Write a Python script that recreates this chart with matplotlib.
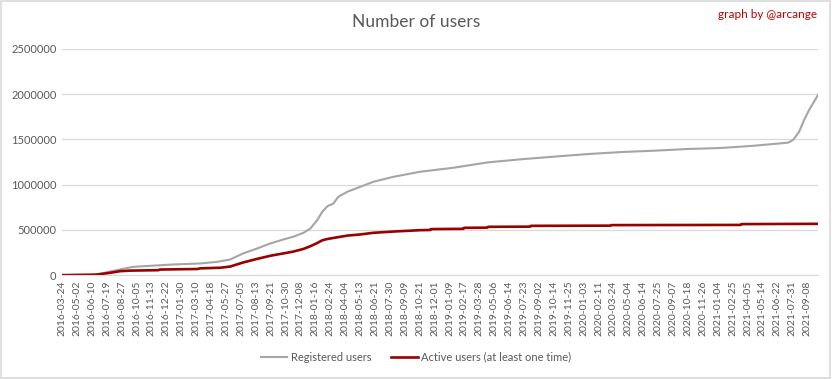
import numpy as np
import pandas as pd
import matplotlib.pyplot as plt

# category labels shown on the x axis (every 39th row of the sheet)
tick_labels = ['2016-03-24', '2016-05-02', '2016-06-10', '2016-07-19', '2016-08-27', '2016-10-05',
               '2016-11-13', '2016-12-22', '2017-01-30', '2017-03-10', '2017-04-18', '2017-05-27',
               '2017-07-05', '2017-08-13', '2017-09-21', '2017-10-30', '2017-12-08', '2018-01-16',
               '2018-02-24', '2018-04-04', '2018-05-13', '2018-06-21', '2018-07-30', '2018-09-09',
               '2018-10-21', '2018-12-01', '2019-01-09', '2019-02-17', '2019-03-28', '2019-05-06',
               '2019-06-14', '2019-07-23', '2019-09-02', '2019-10-14', '2019-11-25', '2020-01-03',
               '2020-02-11', '2020-03-24', '2020-05-04', '2020-06-14', '2020-07-25', '2020-09-07',
               '2020-10-18', '2020-11-26', '2021-01-04', '2021-02-25', '2021-04-05', '2021-05-14',
               '2021-06-22', '2021-07-31', '2021-09-08']

# registered users
reg_dates = ['2016-03-24', '2016-06-10', '2016-07-01', '2016-07-28', '2016-08-23', '2016-09-26',
             '2016-11-09', '2017-01-09', '2017-03-21', '2017-05-04', '2017-06-07', '2017-07-11',
             '2017-08-17', '2017-09-20', '2017-10-24', '2017-11-19', '2017-12-16', '2018-01-03',
             '2018-01-21', '2018-02-03', '2018-02-17', '2018-03-04', '2018-03-17', '2018-04-10',
             '2018-05-14', '2018-06-17', '2018-08-09', '2018-10-23', '2019-01-20', '2019-04-19',
             '2019-07-14', '2019-10-14', '2020-01-14', '2020-04-13', '2020-07-13', '2020-10-18',
             '2021-01-15', '2021-04-22', '2021-07-20', '2021-08-02', '2021-08-18', '2021-08-31',
             '2021-09-13', '2021-10-07']
reg_users = [0, 5000, 15000, 40000, 63000, 92000,
             103000, 118000, 129000, 147000, 173000, 240000,
             295000, 350000, 394000, 424000, 468000, 516000,
             608000, 700000, 763000, 790000, 866000, 922000,
             977000, 1032000, 1087000, 1143000, 1187000, 1246000,
             1280000, 1309000, 1338000, 1360000, 1375000, 1394000,
             1405000, 1430000, 1464000, 1493000, 1585000, 1715000,
             1825000, 1995000]

# active users (at least one time)
act_dates = ['2016-03-24', '2016-06-21', '2016-07-28', '2016-08-23', '2016-09-18', '2016-12-01',
             '2016-12-06', '2017-03-13', '2017-03-21', '2017-05-12', '2017-06-07', '2017-07-11',
             '2017-08-17', '2017-09-20', '2017-10-24', '2017-11-19', '2017-12-16', '2018-01-03',
             '2018-01-21', '2018-02-03', '2018-02-17', '2018-03-17', '2018-04-10', '2018-05-14',
             '2018-06-17', '2018-08-09', '2018-10-23', '2018-11-19', '2018-11-21', '2019-02-14',
             '2019-02-16', '2019-04-18', '2019-04-20', '2019-08-09', '2019-08-11', '2020-03-16',
             '2020-03-18', '2021-03-18', '2021-03-20', '2021-10-07']
act_users = [0, 5000, 26000, 44000, 50000, 55000,
             62000, 68000, 75000, 82000, 95000, 140000,
             180000, 214000, 240000, 260000, 290000, 320000,
             355000, 385000, 400000, 420000, 437000, 450000,
             468000, 482000, 497000, 499000, 509000, 512000,
             523000, 525000, 534000, 536000, 545000, 547000,
             553000, 555000, 564000, 567000]

txt = '#595959'
grid = '#d9d9d9'
plt.rcParams['font.family'] = ['Lato', 'DejaVu Sans']

# the sheet uses a category axis: position = label index, rows between labels
tick_days = pd.to_datetime(tick_labels).values.astype('datetime64[D]').astype(float)
tick_pos = np.arange(len(tick_labels), dtype=float)


def to_pos(dates):
    d = pd.to_datetime(dates).values.astype('datetime64[D]').astype(float)
    p = np.interp(d, tick_days, tick_pos)
    late = d > tick_days[-1]
    p[late] = tick_pos[-1] + (d[late] - tick_days[-1]) / 39.0
    return p


fig = plt.figure(figsize=(8.32, 3.79), dpi=100)
ax = fig.add_axes([0.0745, 0.274, 0.909, 0.597])

ax.plot(to_pos(reg_dates), reg_users, color='#a8a4a4', lw=1.5, label='Registered users')
ax.plot(to_pos(act_dates), act_users, color='#990000', lw=1.9, label='Active users (at least one time)')

ax.set_xticks(tick_pos)
ax.set_xticklabels(tick_labels, rotation=90, fontsize=7.5, color=txt)
ax.set_xlim(0, to_pos(['2021-10-07'])[0])
ax.set_ylim(0, 2500000)
ax.set_yticks(range(0, 2500001, 500000))
ax.set_yticklabels([str(v) for v in range(0, 2500001, 500000)], fontsize=8, color=txt)
ax.grid(axis='y', color=grid, lw=0.9)
ax.set_axisbelow(True)
for s in ['top', 'right', 'left']:
    ax.spines[s].set_visible(False)
ax.spines['bottom'].set_color(grid)
ax.tick_params(axis='both', length=0, pad=4)

fig.text(0.5, 0.942, 'Number of users', ha='center', va='center', fontsize=12.5, color=txt)
fig.text(0.982, 0.962, 'graph by @arcange', ha='right', va='center', fontsize=8.5, color='#c00000')

leg = fig.legend(loc='center', bbox_to_anchor=(0.5, 0.058), ncol=2, frameon=False,
                 fontsize=8, handlelength=2.4, handletextpad=0.3, columnspacing=1.8)
for t in leg.get_texts():
    t.set_color(txt)

fig.patches.append(plt.Rectangle((0.001, 0.002), 0.997, 0.995, transform=fig.transFigure,
                                 fill=False, edgecolor=grid, lw=1.2))

plt.savefig('out.png')
